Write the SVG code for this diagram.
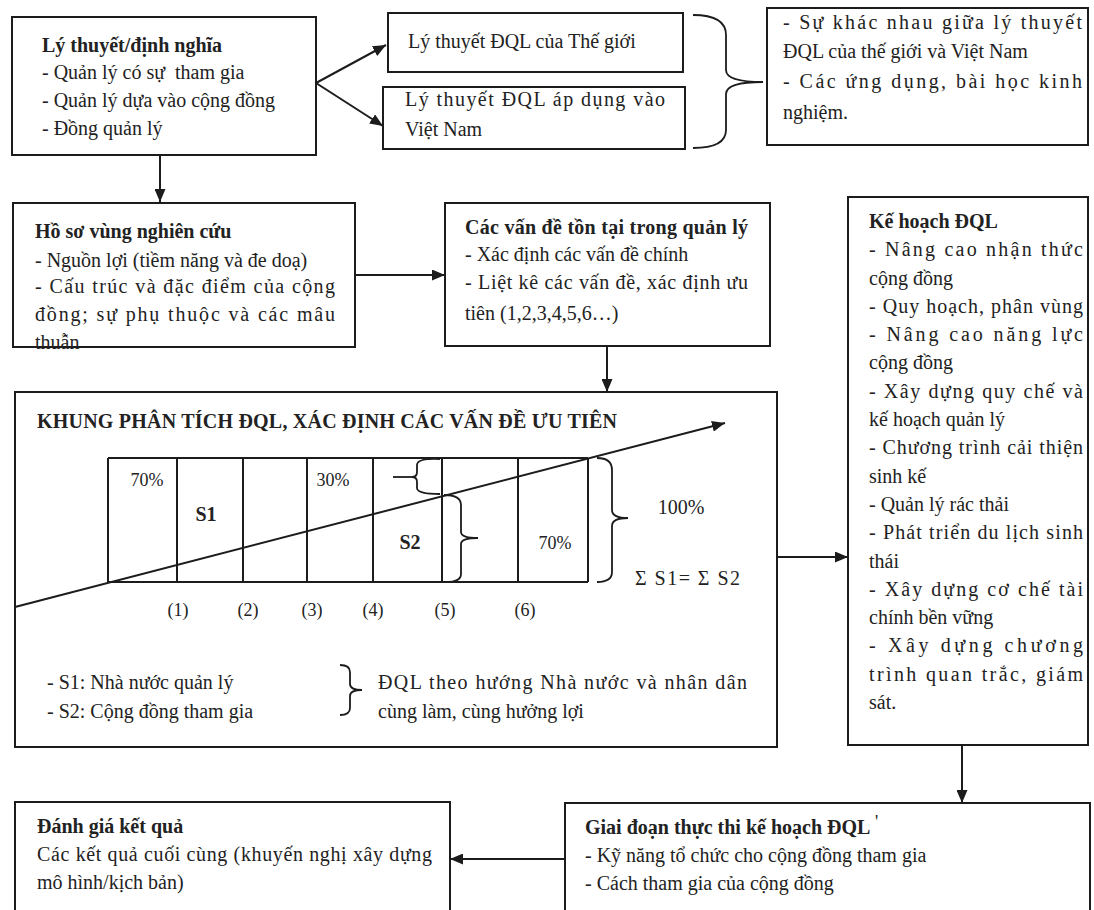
<svg xmlns="http://www.w3.org/2000/svg" width="1094" height="910" viewBox="0 0 1094 910">
<style>
.bx{fill:#fff;stroke:#1c1c1c;stroke-width:2}
.ln{fill:none;stroke:#1c1c1c;stroke-width:2}
.br{fill:none;stroke:#1c1c1c;stroke-width:1.8}
text{font-family:"Liberation Serif","Times New Roman",serif;font-size:20px;fill:#222}
.b{font-weight:bold}
.c{text-anchor:middle}
.sm{font-size:18px}
</style>
<defs>
<marker id="ah" markerUnits="userSpaceOnUse" markerWidth="13" markerHeight="11" refX="13" refY="5.5" orient="auto">
<path d="M0,0 L13,5.5 L0,11 z" fill="#1c1c1c"/>
</marker>
</defs>
<rect width="1094" height="910" fill="#fff"/>

<g id="connectors">
<line class="ln" x1="160" y1="155" x2="160" y2="202" marker-end="url(#ah)"/>
<line class="ln" x1="316" y1="83" x2="386" y2="45" marker-end="url(#ah)"/>
<line class="ln" x1="316" y1="83" x2="383" y2="126" marker-end="url(#ah)"/>
<line class="ln" x1="355" y1="275" x2="445" y2="275" marker-end="url(#ah)"/>
<line class="ln" x1="607" y1="346" x2="607" y2="392" marker-end="url(#ah)"/>
<line class="ln" x1="777" y1="557" x2="848" y2="557" marker-end="url(#ah)"/>
<line class="ln" x1="962" y1="745" x2="962" y2="803" marker-end="url(#ah)"/>
<line class="ln" x1="565" y1="859" x2="450" y2="859" marker-end="url(#ah)"/>
<path class="br" d="M693,15 Q726,15 726,35 L726,70 Q726,82 763,82 Q726,82 726,94 L726,130 Q726,148 693,148"/>
</g>

<g id="n-lythuyet">
<rect class="bx" x="12" y="17" width="304" height="138"/>
<text class="b" x="42" y="52">Lý thuyết/định nghĩa</text>
<text x="42" y="79">- Quản lý có sự&#160; tham gia</text>
<text x="42" y="107">- Quản lý dựa vào cộng đồng</text>
<text x="42" y="135">- Đồng quản lý</text>
</g>

<g id="n-thegioi">
<rect class="bx" x="388" y="13" width="295" height="59"/>
<text x="408" y="48">Lý thuyết ĐQL của Thế giới</text>
</g>

<g id="n-vietnam">
<rect class="bx" x="383" y="87" width="302" height="62"/>
<text x="405" y="106" textLength="260" lengthAdjust="spacing">Lý thuyết ĐQL áp dụng vào</text>
<text x="405" y="136">Việt Nam</text>
</g>

<g id="n-khacnhau">
<rect class="bx" x="767" y="8" width="321" height="137"/>
<text x="783" y="29" textLength="299" lengthAdjust="spacing">- Sự khác nhau giữa lý thuyết</text>
<text x="783" y="58">ĐQL của thế giới và Việt Nam</text>
<text x="783" y="88" textLength="299" lengthAdjust="spacing">- Các ứng dụng, bài học kinh</text>
<text x="783" y="119">nghiệm.</text>
</g>

<g id="n-hoso">
<rect class="bx" x="13" y="203" width="342" height="144"/>
<text class="b" x="35" y="238">Hồ sơ vùng nghiên cứu</text>
<text x="35" y="267">- Nguồn lợi (tiềm năng và đe doạ)</text>
<text x="35" y="293" textLength="300" lengthAdjust="spacing">- Cấu trúc và đặc điểm của cộng</text>
<text x="35" y="321" textLength="300" lengthAdjust="spacing">đồng; sự phụ thuộc và các mâu</text>
<text x="35" y="349">thuẫn</text>
</g>

<g id="n-vande">
<rect class="bx" x="445" y="203" width="325" height="143"/>
<text class="b" x="465" y="234" textLength="283" lengthAdjust="spacing">Các vấn đề tồn tại trong quản lý</text>
<text x="465" y="261">- Xác định các vấn đề chính</text>
<text x="465" y="289" textLength="283" lengthAdjust="spacing">- Liệt kê các vấn đề, xác định ưu</text>
<text x="465" y="320">tiên (1,2,3,4,5,6…)</text>
</g>

<g id="n-khung">
<rect class="bx" x="15" y="392" width="762" height="355"/>
<text class="b" x="37" y="428" textLength="580" lengthAdjust="spacing">KHUNG PHÂN TÍCH ĐQL, XÁC ĐỊNH CÁC VẤN ĐỀ ƯU TIÊN</text>
<g class="ln">
<line x1="108" y1="458" x2="588" y2="458"/>
<line x1="108" y1="582" x2="588" y2="582"/>
<line x1="108" y1="458" x2="108" y2="582"/>
<line x1="177" y1="458" x2="177" y2="582"/>
<line x1="243" y1="458" x2="243" y2="582"/>
<line x1="307" y1="458" x2="307" y2="582"/>
<line x1="373" y1="458" x2="373" y2="582"/>
<line x1="442" y1="458" x2="442" y2="582"/>
<line x1="518" y1="458" x2="518" y2="582"/>
<line x1="588" y1="458" x2="588" y2="582"/>
</g>
<line class="ln" x1="15" y1="607" x2="725" y2="423" marker-end="url(#ah)"/>
<line class="br" x1="393" y1="477" x2="413" y2="477"/>
<path class="br" d="M440,459 Q417,458 417,465 L417,472 Q417,477 412,477 Q417,477 417,482 L417,488 Q417,494 440,494"/>
<path class="br" d="M444,495 Q461,495 461,505 L461,532 Q461,538 478,538 Q461,538 461,544 L461,574 Q461,582 446,582"/>
<path class="br" d="M597,458 Q612,458 612,470 L612,510 Q612,518 628,518 Q612,518 612,526 L612,572 Q612,582 597,582"/>
<text class="c sm" x="147" y="486">70%</text>
<text class="c b" x="206" y="521">S1</text>
<text class="c sm" x="333" y="486">30%</text>
<text class="c b" x="410" y="549">S2</text>
<text class="c sm" x="555" y="549">70%</text>
<text class="c" x="681" y="514">100%</text>
<text x="635" y="585" textLength="105" lengthAdjust="spacing">Σ S1= Σ S2</text>
<text class="c sm" x="178" y="616">(1)</text>
<text class="c sm" x="248" y="616">(2)</text>
<text class="c sm" x="312" y="616">(3)</text>
<text class="c sm" x="373" y="616">(4)</text>
<text class="c sm" x="445" y="616">(5)</text>
<text class="c sm" x="525" y="616">(6)</text>
<text x="47" y="689">- S1: Nhà nước quản lý</text>
<text x="47" y="718">- S2: Cộng đồng tham gia</text>
<path class="br" d="M340,665 Q350,665 350,672 L350,684 Q350,690 362,690 Q350,690 350,696 L350,708 Q350,715 340,715"/>
<text x="378" y="689" textLength="369" lengthAdjust="spacing">ĐQL theo hướng Nhà nước và nhân dân</text>
<text x="378" y="718">cùng làm, cùng hưởng lợi</text>
</g>

<g id="n-kehoach">
<rect class="bx" x="848" y="197" width="240" height="548"/>
<text class="b" x="869" y="228">Kế hoạch ĐQL</text>
<text x="869" y="256" textLength="214" lengthAdjust="spacing">- Nâng cao nhận thức</text>
<text x="869" y="285">cộng đồng</text>
<text x="869" y="313" textLength="214" lengthAdjust="spacing">- Quy hoạch, phân vùng</text>
<text x="869" y="341" textLength="214" lengthAdjust="spacing">- Nâng cao năng lực</text>
<text x="869" y="369">cộng đồng</text>
<text x="869" y="398" textLength="214" lengthAdjust="spacing">- Xây dựng quy chế và</text>
<text x="869" y="426">kế hoạch quản lý</text>
<text x="869" y="454" textLength="214" lengthAdjust="spacing">- Chương trình cải thiện</text>
<text x="869" y="483">sinh kế</text>
<text x="869" y="511">- Quản lý rác thải</text>
<text x="869" y="539" textLength="214" lengthAdjust="spacing">- Phát triển du lịch sinh</text>
<text x="869" y="568">thái</text>
<text x="869" y="596" textLength="214" lengthAdjust="spacing">- Xây dựng cơ chế tài</text>
<text x="869" y="624">chính bền vững</text>
<text x="869" y="652" textLength="214" lengthAdjust="spacing">- Xây dựng chương</text>
<text x="869" y="681" textLength="214" lengthAdjust="spacing">trình quan trắc, giám</text>
<text x="869" y="709">sát.</text>
</g>

<g id="n-thucthi">
<rect class="bx" x="565" y="803" width="525" height="130"/>
<text class="b" x="585" y="834">Giai đoạn thực thi kế hoạch ĐQL<tspan class="sm" font-weight="normal" dy="-6"> '</tspan></text>
<text x="585" y="862">- Kỹ năng tổ chức cho cộng đồng tham gia</text>
<text x="585" y="890">- Cách tham gia của cộng đồng</text>
</g>

<g id="n-danhgia">
<rect class="bx" x="15" y="802" width="435" height="130"/>
<text class="b" x="37" y="833">Đánh giá kết quả</text>
<text x="37" y="861" textLength="395" lengthAdjust="spacing">Các kết quả cuối cùng (khuyến nghị xây dựng</text>
<text x="37" y="889">mô hình/kịch bản)</text>
</g>
</svg>
